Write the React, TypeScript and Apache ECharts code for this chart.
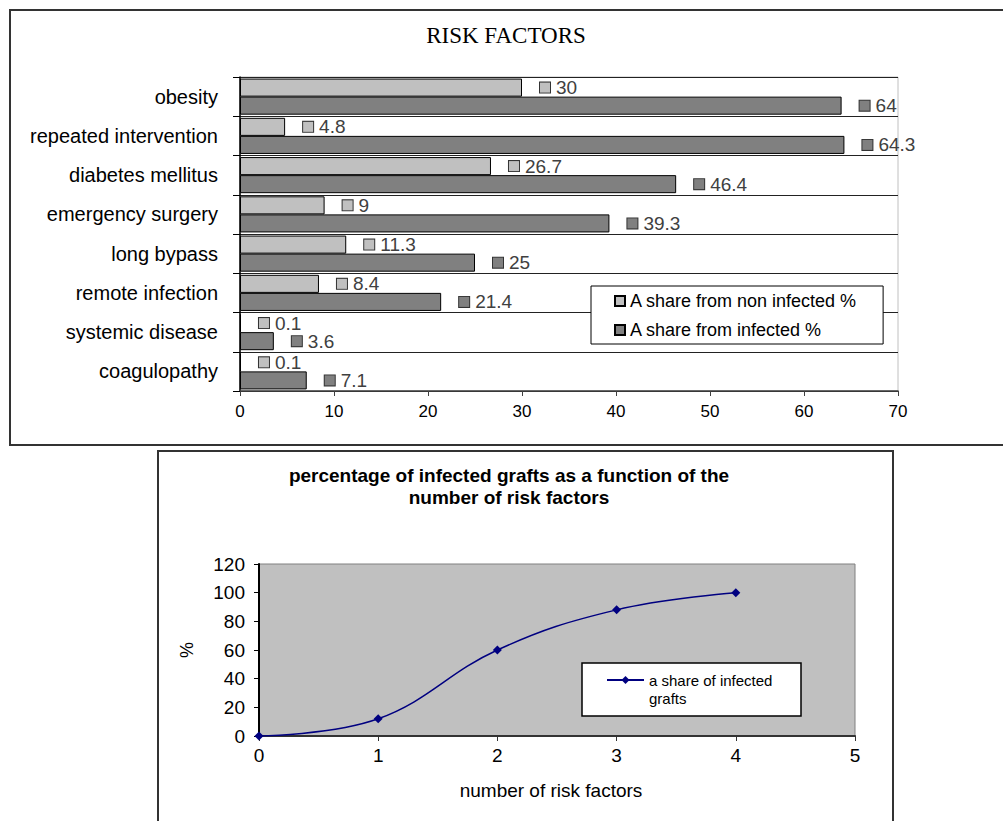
import React, { useEffect, useRef } from "react";
import * as echarts from "echarts";

const categories = [
  "obesity",
  "repeated intervention",
  "diabetes mellitus",
  "emergency surgery",
  "long bypass",
  "remote infection",
  "systemic disease",
  "coagulopathy",
];
const nonInfected = [30, 4.8, 26.7, 9, 11.3, 8.4, 0.1, 0.1];
const infected = [64, 64.3, 46.4, 39.3, 25, 21.4, 3.6, 7.1];
const seriesNames = ["A share from non infected %", "A share from infected %"];

const riskFactorCount = [0, 1, 2, 3, 4];
const infectedGraftShare = [0, 12, 60, 88, 100];
const lineName = "a share of infected grafts";

const SANS = "'Liberation Sans', Arial, sans-serif";
const SERIF = "'Liberation Serif', 'Times New Roman', serif";
const LIGHT = "#c0c0c0";
const DARK = "#808080";

function barLabel(color: string) {
  return {
    show: true,
    position: "right" as const,
    distance: 18,
    formatter: (p: any) => `{s|}{v|${p.value}}`,
    rich: {
      s: {
        width: 10,
        height: 10,
        backgroundColor: color,
        borderColor: "#333",
        borderWidth: 1,
      },
      v: {
        fontFamily: SANS,
        fontSize: 19,
        color: "#404040",
        padding: [0, 0, 0, 6],
        lineHeight: 20,
      },
    },
  };
}

export default function App() {
  const ref = useRef<HTMLDivElement>(null);

  useEffect(() => {
    if (!ref.current) return;
    const chart = echarts.init(ref.current, undefined, { renderer: "svg" });

    const option: any = {
      animation: false,
      backgroundColor: "#ffffff",
      textStyle: { fontFamily: SANS },
      title: [
        {
          text: "RISK FACTORS",
          left: 506,
          top: 24,
          padding: 0,
          textAlign: "center",
          textStyle: {
            fontFamily: SERIF,
            fontWeight: "normal",
            fontSize: 23,
            color: "#000",
          },
        },
        {
          text: "percentage of infected grafts as a function of the\nnumber of risk factors",
          left: 509,
          top: 464,
          padding: 0,
          textAlign: "center",
          textStyle: {
            fontFamily: SANS,
            fontWeight: "bold",
            fontSize: 19,
            lineHeight: 22,
            color: "#000",
          },
        },
      ],
      legend: [
        {
          data: seriesNames,
          orient: "vertical",
          left: 591,
          top: 286,
          icon: "rect",
          itemWidth: 10,
          itemHeight: 10,
          itemGap: 11,
          padding: [6, 26, 5, 23],
          backgroundColor: "#fff",
          borderColor: "#000",
          borderWidth: 1,
          textStyle: { fontFamily: SANS, fontSize: 18, lineHeight: 18, color: "#000" },
        },
        {
          data: [lineName],
          orient: "vertical",
          left: 606,
          top: 653,
          itemWidth: 37,
          itemHeight: 10,
          padding: 0,
          formatter: () => "\na share of infected\ngrafts",
          textStyle: { fontFamily: SANS, fontSize: 15, lineHeight: 18, color: "#000" },
          z: 10,
        },
      ],
      grid: [
        {
          left: 240,
          top: 77,
          width: 658,
          height: 314,
          show: true,
          backgroundColor: "#fff",
          borderColor: "#c0c0c0",
          borderWidth: 1,
        },
        {
          left: 259,
          top: 564,
          width: 596,
          height: 172,
          show: true,
          backgroundColor: "#c0c0c0",
          borderColor: "#808080",
          borderWidth: 1,
        },
      ],
      xAxis: [
        {
          type: "value",
          gridIndex: 0,
          min: 0,
          max: 70,
          interval: 10,
          axisLine: { show: true, lineStyle: { color: "#404040", width: 1.5 } },
          axisTick: { show: true, length: 5, lineStyle: { color: "#404040" } },
          axisLabel: { fontSize: 17, color: "#000", margin: 12, fontFamily: SANS },
          splitLine: { show: false },
        },
        {
          type: "value",
          gridIndex: 1,
          min: 0,
          max: 5,
          interval: 1,
          name: "number of risk factors",
          nameLocation: "middle",
          nameGap: 45,
          nameTextStyle: {
            fontSize: 19,
            color: "#000",
            fontFamily: SANS,
            padding: [0, 12, 0, 0],
          },
          axisLine: { show: true, lineStyle: { color: "#333", width: 2 } },
          axisTick: { show: true, length: 5, lineStyle: { color: "#333" } },
          axisLabel: { fontSize: 19, color: "#000", margin: 10, fontFamily: SANS },
          splitLine: { show: false },
        },
      ],
      yAxis: [
        {
          type: "category",
          gridIndex: 0,
          data: categories,
          inverse: true,
          axisLine: { show: true, lineStyle: { color: "#000", width: 1.5 } },
          axisTick: { show: true, length: 7, lineStyle: { color: "#000" } },
          axisLabel: { fontSize: 20, color: "#000", margin: 22, fontFamily: SANS },
          splitLine: { show: true, lineStyle: { color: "#222", width: 1 } },
        },
        {
          type: "value",
          gridIndex: 1,
          min: 0,
          max: 120,
          interval: 20,
          name: "%",
          nameLocation: "middle",
          nameGap: 63,
          nameTextStyle: { fontSize: 18, color: "#000", fontFamily: SANS },
          axisLine: { show: true, lineStyle: { color: "#000", width: 2 } },
          axisTick: { show: true, length: 5, lineStyle: { color: "#000" } },
          axisLabel: { fontSize: 19, color: "#000", margin: 14, fontFamily: SANS },
          splitLine: { show: false },
        },
      ],
      series: [
        {
          type: "bar",
          name: seriesNames[0],
          xAxisIndex: 0,
          yAxisIndex: 0,
          data: nonInfected,
          barCategoryGap: "8%",
          barGap: "0%",
          itemStyle: { color: LIGHT, borderColor: "#000", borderWidth: 1 },
          label: barLabel(LIGHT),
        },
        {
          type: "bar",
          name: seriesNames[1],
          xAxisIndex: 0,
          yAxisIndex: 0,
          data: infected,
          barCategoryGap: "8%",
          barGap: "0%",
          itemStyle: { color: DARK, borderColor: "#000", borderWidth: 1 },
          label: barLabel(DARK),
        },
        {
          type: "line",
          name: lineName,
          xAxisIndex: 1,
          yAxisIndex: 1,
          data: riskFactorCount.map((x, i) => [x, infectedGraftShare[i]]),
          smooth: 0.4,
          symbol: "diamond",
          symbolSize: 9,
          lineStyle: { color: "#000080", width: 1.5 },
          itemStyle: { color: "#000080" },
        },
      ],
      graphic: [
        {
          type: "rect",
          shape: { x: 10, y: 10, width: 1010, height: 435 },
          style: { fill: "none", stroke: "#333", lineWidth: 2 },
          z: 1,
        },
        {
          type: "rect",
          shape: { x: 158, y: 451, width: 735, height: 420 },
          style: { fill: "none", stroke: "#333", lineWidth: 2 },
          z: 1,
        },
        {
          type: "rect",
          shape: { x: 582, y: 663, width: 219, height: 53 },
          style: { fill: "#fff", stroke: "#000", lineWidth: 1.5 },
          z: 5,
        },
      ],
    };

    chart.setOption(option);
    return () => chart.dispose();
  }, []);

  return (
    <div
      ref={ref}
      style={{ position: "absolute", left: 0, top: 0, width: 1003, height: 821 }}
    />
  );
}
